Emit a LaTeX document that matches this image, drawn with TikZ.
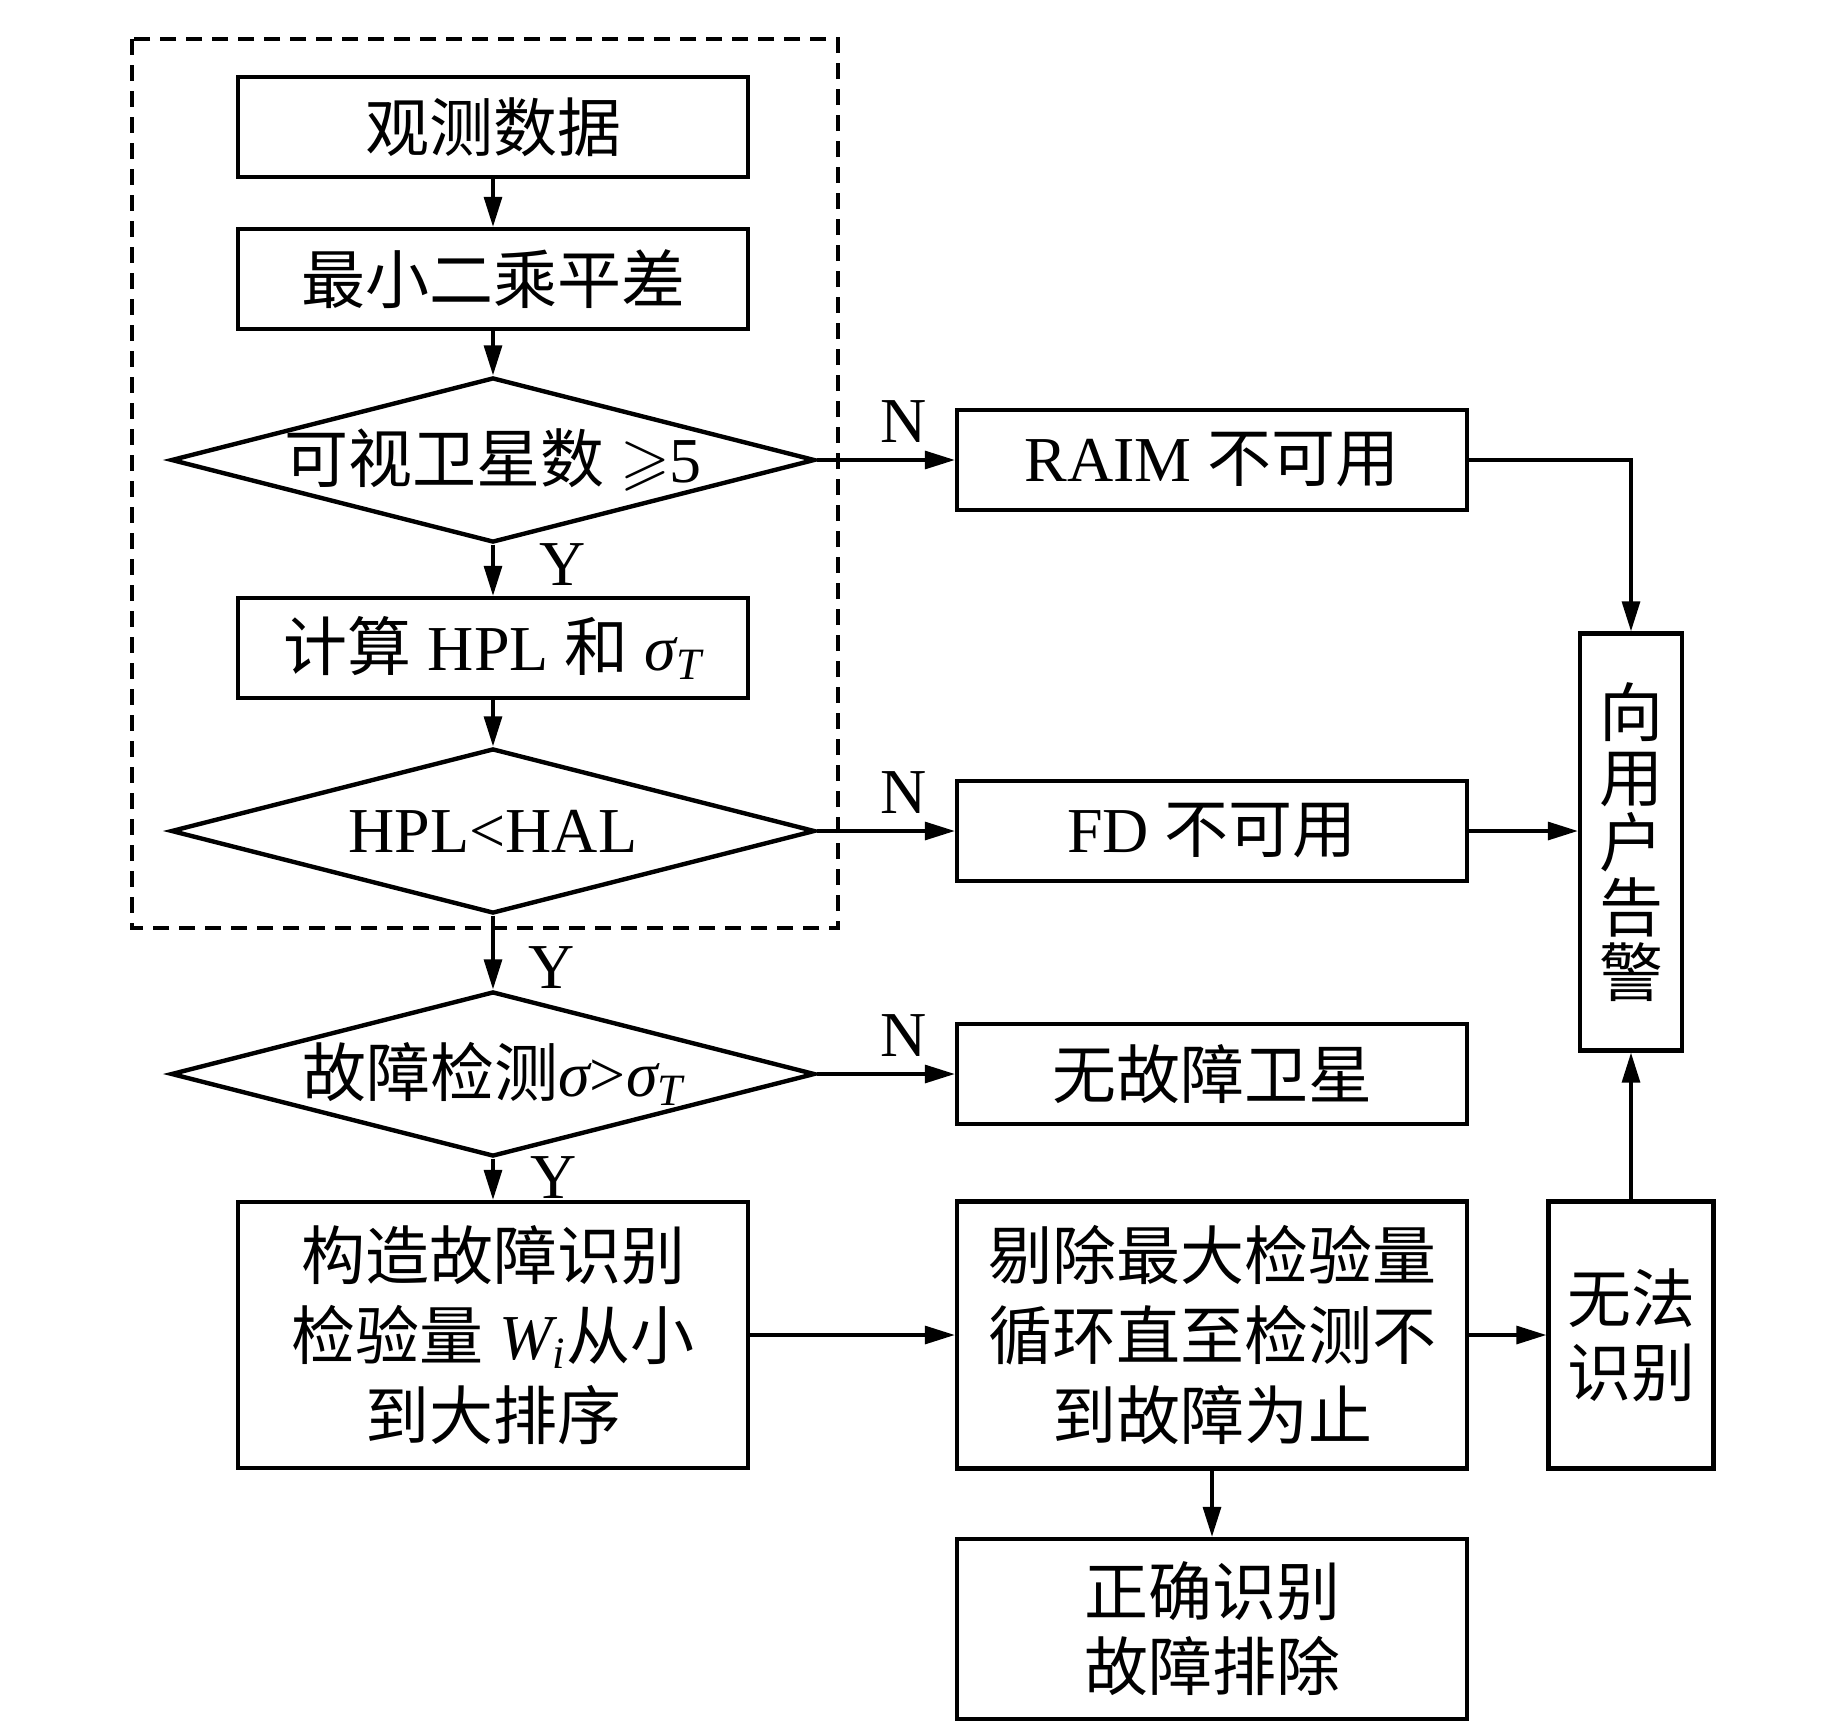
\documentclass[tikz,border=0pt]{standalone}
\usepackage{fix-cm}
\usepackage{amssymb}
\usepackage{fontspec}
\setmainfont{Liberation Serif}
\newfontfamily\cjk{Noto Sans CJK SC}[Scale=1.0]
\usetikzlibrary{
    arrows.meta,
    shapes.geometric,
    positioning
}

\begin{document}
\begin{tikzpicture}[x=0.5pt, y=-0.5pt,
    >={Triangle[length=15pt, width=9pt]},
    every node/.style={font=\fontsize{32}{40}\selectfont},
    procbox/.style={draw, line width=2.2pt, minimum width=255pt, minimum height=50pt, inner sep=0pt, align=center},
    decision/.style={draw, diamond, line width=2.2pt, minimum width=322pt, minimum height=82.5pt, inner sep=0pt, aspect=3.9},
    flow/.style={->, line width=1.6pt},
    yn/.style={inner sep=0pt}]
    \useasboundingbox (0,0) rectangle (1843,1724);
    \draw[dash pattern=on 8pt off 5pt, line width=1.6pt] (132,39) rectangle (838,928);
    % left column
    \node[procbox] (obs) at (493,127) {\cjk 观测数据};
    \node[procbox] (lsq) at (493,279) {\cjk 最小二乘平差};
    \node[decision] (sat) at (493,460) {\makebox[0pt]{{\cjk 可视卫星数} $\geqslant$5}};
    \node[procbox] (hpl) at (493,648) {{\cjk 计算} HPL {\cjk 和} {\itshape σ}\textsubscript{\itshape T}};
    \node[decision] (cmp) at (493,831) {\makebox[0pt]{HPL<HAL}};
    \node[decision] (det) at (493,1074) {\makebox[0pt]{{\cjk 故障检测}{\itshape σ}>{\itshape σ}\textsubscript{\itshape T}}};
    \node[procbox, minimum height=133pt] (cons) at (493,1335) {{\cjk 构造故障识别}\\{\cjk 检验量} {\itshape W}\textsubscript{\itshape i}{\cjk 从小}\\{\cjk 到大排序}};
    % right column
    \node[procbox] (raim) at (1212,460) {RAIM {\cjk 不可用}};
    \node[procbox] (fd) at (1212,831) {FD {\cjk 不可用}};
    \node[procbox] (nofault) at (1212,1074) {\cjk 无故障卫星};
    \node[procbox, minimum height=133.5pt] (remove) at (1212,1335) {{\cjk 剔除最大检验量}\\{\cjk 循环直至检测不}\\{\cjk 到故障为止}};
    \node[procbox, minimum height=90pt, font=\fontsize{32}{37.5}\selectfont] (right) at (1212,1629) {{\cjk 正确识别}\\{\cjk 故障排除}};
    \node[procbox, minimum width=51pt, minimum height=208.5pt, font=\fontsize{32}{32.5}\selectfont] (alarm) at (1631,842) {{\cjk 向}\\{\cjk 用}\\{\cjk 户}\\{\cjk 告}\\{\cjk 警}};
    \node[procbox, minimum width=82.5pt, minimum height=133.5pt, font=\fontsize{32}{37}\selectfont] (fail) at (1631,1335) {{\cjk 无法}\\{\cjk 识别}};
    % arrows
    \draw[flow] (obs) -- (lsq);
    \draw[flow] (lsq) -- (sat);
    \draw[flow] (sat) -- node[yn, right=22.5pt, pos=0.38] {Y} (hpl);
    \draw[flow] (hpl) -- (cmp);
    \draw[flow] (cmp) -- node[yn, right=17pt, pos=0.7] {Y} (det);
    \draw[flow] (det) -- node[yn, right=18pt, pos=0.45] {Y} (cons);
    \draw[flow] (sat) -- node[yn, above=8pt, pos=0.63] {N} (raim);
    \draw[flow] (cmp) -- node[yn, above=8pt, pos=0.63] {N} (fd);
    \draw[flow] (det) -- node[yn, above=8pt, pos=0.63] {N} (nofault);
    \draw[flow] (raim.east) -| (alarm.north);
    \draw[flow] (fd.east) -- (fd.east -| alarm.west);
    \draw[flow] (cons) -- (remove);
    \draw[flow] (remove) -- (fail);
    \draw[flow] (remove) -- (right);
    \draw[flow] (fail) -- (alarm);
\end{tikzpicture}
\end{document}
